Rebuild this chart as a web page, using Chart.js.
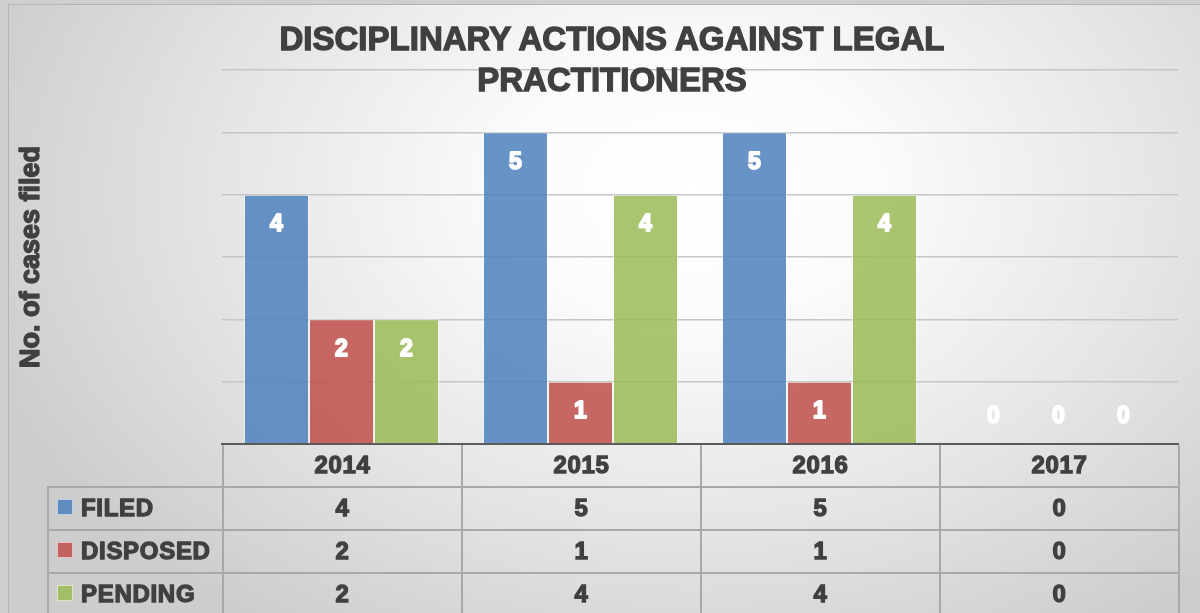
<!DOCTYPE html>
<html>
<head>
<meta charset="utf-8">
<script src="https://cdn.jsdelivr.net/npm/chart.js@4"></script>
<style>
  html, body { margin: 0; padding: 0; }
  body { width: 1200px; height: 613px; overflow: hidden; background: #cfcfcf; }
  #wrap {
    position: absolute; left: 8px; top: 4px; width: 1200px; height: 620px;
    border-top: 1.5px solid #b4b4b4; border-left: 1.5px solid #b4b4b4;
    background: radial-gradient(ellipse 62% 85% at 57% 30%, #ffffff 0%, #fbfbfb 25%, #e4e4e4 65%, #cdcdcd 100%);
  }
  #chartBox { position: absolute; left: 0; top: 0; width: 1200px; height: 613px; }
  .heavy { font-family: "Liberation Sans", Arial, sans-serif; font-weight: bold; color: #404040; -webkit-text-stroke: 1.3px #404040; }
  #title {
    position: absolute; left: 212px; top: 18px; width: 800px; text-align: center;
    font-size: 33px; line-height: 41px; letter-spacing: 0px;
  }
  #dataTable {
    position: absolute; border-collapse: collapse; table-layout: fixed;
    font-size: 24px; letter-spacing: 0.7px;
  }
  #dataTable td { border: 2px solid #a8a8a8; text-align: center; padding: 0 0 2px 0; height: 39px; }
  #dataTable tr:first-child td { border-top: none; }
  #dataTable td.blank { border: none; border-right: 2px solid #a8a8a8; }
  #dataTable td.name { text-align: left; padding-left: 8px; white-space: nowrap; }
  .swatch { display: inline-block; width: 14px; height: 14px; margin-right: 8px; vertical-align: 1px; border: 1px solid rgba(255,255,255,0.6); -webkit-text-stroke: 0; }
</style>
</head>
<body>
<div id="wrap"></div>
<div id="chartBox">
  <canvas id="chart"></canvas>
</div>
<div id="title" class="heavy">DISCIPLINARY ACTIONS AGAINST LEGAL<br>PRACTITIONERS</div>
<table id="dataTable" class="heavy"></table>
<script>
const years = ['2014', '2015', '2016', '2017'];
const seriesNames = ['FILED', 'DISPOSED', 'PENDING'];
const filed = [4, 5, 5, 0];
const disposed = [2, 1, 1, 0];
const pending = [2, 4, 4, 0];
const yMax = 6;
const yTitle = 'No. of cases filed';

const seriesColors = ['rgba(79,129,189,0.86)', 'rgba(192,80,77,0.86)', 'rgba(155,187,89,0.86)'];
const seriesValues = [filed, disposed, pending];

// white value labels inside the bars (above the axis for zero values)
const valueLabels = {
    id: 'valueLabels',
    afterDatasetsDraw(chart) {
        const ctx = chart.ctx;
        ctx.save();
        ctx.font = 'bold 23px "Liberation Sans", Arial, sans-serif';
        ctx.fillStyle = '#ffffff';
        ctx.strokeStyle = '#ffffff';
        ctx.lineWidth = 1.8;
        ctx.lineJoin = 'round';
        ctx.textAlign = 'center';
        ctx.textBaseline = 'middle';
        chart.data.datasets.forEach((ds, i) => {
            chart.getDatasetMeta(i).data.forEach((bar, j) => {
                const v = ds.data[j];
                const y = v > 0 ? bar.y + 30 : bar.base - 27;
                ctx.strokeText(String(v), bar.x, y);
                ctx.fillText(String(v), bar.x, y);
            });
        });
        ctx.restore();
    }
};

// heavy rotated y axis title, centred on the plot area
const axisTitle = {
    id: 'axisTitle',
    afterDraw(chart) {
        const area = chart.chartArea;
        const ctx = chart.ctx;
        ctx.save();
        ctx.translate(32, (area.top + area.bottom) / 2);
        ctx.rotate(-Math.PI / 2);
        ctx.font = 'bold 27px "Liberation Sans", Arial, sans-serif';
        ctx.fillStyle = '#404040';
        ctx.strokeStyle = '#404040';
        ctx.lineWidth = 1.4;
        ctx.lineJoin = 'round';
        ctx.textAlign = 'center';
        ctx.textBaseline = 'middle';
        ctx.strokeText(yTitle, 0, 0);
        ctx.fillText(yTitle, 0, 0);
        ctx.restore();
    }
};

// data table under the plot, aligned to the x scale
const dataTable = {
    id: 'dataTable',
    afterLayout(chart) {
        const area = chart.chartArea;
        const colW = (area.right - area.left) / years.length;
        const nameW = 175;
        const table = document.getElementById('dataTable');
        table.style.left = (area.left - nameW) + 'px';
        table.style.top = (area.bottom + 1) + 'px';
        table.style.width = (nameW + colW * years.length) + 'px';
        let html = '<colgroup><col style="width:' + nameW + 'px">';
        years.forEach(() => { html += '<col style="width:' + colW + 'px">'; });
        html += '</colgroup><tr><td class="blank"></td>';
        years.forEach(y => { html += '<td>' + y + '</td>'; });
        html += '</tr>';
        seriesNames.forEach((name, i) => {
            html += '<tr><td class="name"><span class="swatch" style="background:' + seriesColors[i] + '"></span>' + name + '</td>';
            seriesValues[i].forEach(v => { html += '<td>' + v + '</td>'; });
            html += '</tr>';
        });
        table.innerHTML = html;
    }
};

new Chart(document.getElementById('chart'), {
    type: 'bar',
    data: {
        labels: years,
        datasets: seriesNames.map((name, i) => ({
            label: name,
            data: seriesValues[i],
            backgroundColor: seriesColors[i],
            borderColor: 'rgba(255,255,255,0.45)',
            borderWidth: 1,
            categoryPercentage: 0.816,
            barPercentage: 1.0
        }))
    },
    options: {
        responsive: true,
        maintainAspectRatio: false,
        animation: false,
        layout: { padding: { top: 70, right: 22, bottom: 169, left: 12 } },
        plugins: {
            legend: { display: false },
            title: { display: false },
            tooltip: { enabled: false }
        },
        scales: {
            x: {
                grid: { display: false, drawTicks: false },
                ticks: { display: false },
                border: { display: true, color: '#5a5a5a', width: 2 }
            },
            y: {
                min: 0,
                max: yMax,
                ticks: { display: false, stepSize: 1 },
                grid: { color: '#c6c6c6', lineWidth: 1.5, drawTicks: false },
                border: { display: false },
                afterFit(scale) { scale.width = 210; }
            }
        }
    },
    plugins: [valueLabels, axisTitle, dataTable]
});
</script>
</body>
</html>
